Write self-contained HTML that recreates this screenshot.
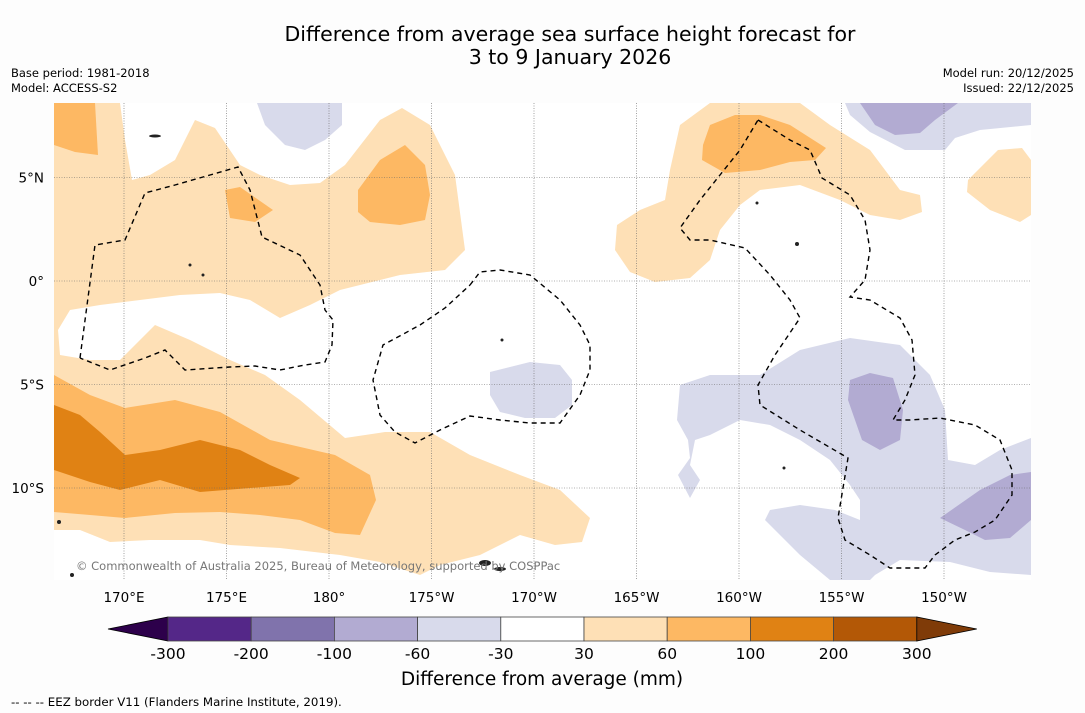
<!DOCTYPE html>
<html><head><meta charset="utf-8"><style>
body{margin:0;background:#fdfdfd;width:1085px;height:713px;overflow:hidden;font-family:"DejaVu Sans","Liberation Sans",sans-serif;}
svg{display:block}
</style></head><body>
<svg id="s" width="1085" height="713" xmlns="http://www.w3.org/2000/svg">
<rect width="1085" height="713" fill="#fdfdfd"/>
<text x="570" y="41" font-size="20.5" text-anchor="middle" fill="#000">Difference from average sea surface height forecast for</text>
<text x="570" y="64" font-size="20.5" text-anchor="middle" fill="#000">3 to 9 January 2026</text>
<text x="11" y="77" font-size="11.5">Base period: 1981-2018</text>
<text x="11" y="92" font-size="11.5">Model: ACCESS-S2</text>
<text x="1074" y="77" font-size="11.5" text-anchor="end">Model run: 20/12/2025</text>
<text x="1074" y="92" font-size="11.5" text-anchor="end">Issued: 22/12/2025</text>
<g id="map">
<clipPath id="c"><rect x="54" y="103" width="977" height="477"/></clipPath>
<g clip-path="url(#c)">
<rect x="54" y="103" width="977" height="477" fill="#ffffff"/>
<polygon fill="#fee0b6" points="54,103 120,103 125,140 132,180 150,175 175,160 195,120 215,128 240,165 260,175 290,185 320,183 345,165 380,120 402,108 430,125 455,175 465,250 445,270 400,275 340,290 310,305 280,318 250,300 220,293 180,295 140,300 100,305 70,310 58,330 60,355 90,360 120,360 155,325 190,340 230,360 265,375 300,400 345,438 385,432 430,432 470,455 520,475 560,490 590,518 582,542 555,545 520,535 480,555 440,565 420,575 380,562 340,555 280,548 230,545 200,540 150,540 110,542 80,530 54,530"/>
<polygon fill="#fdb863" points="54,375 90,395 125,408 175,400 220,412 270,440 335,455 370,475 376,500 360,535 335,533 300,520 260,515 220,512 175,513 125,518 90,515 54,512"/>
<polygon fill="#e08214" points="54,405 80,415 100,432 125,455 160,450 200,440 240,450 270,465 300,478 290,485 250,488 200,492 160,480 120,490 90,482 54,470"/>
<polygon fill="#fdb863" points="54,103 95,103 98,155 75,152 54,145"/>
<polygon fill="#fdb863" points="225,190 240,187 273,210 255,222 230,218"/>
<polygon fill="#fdb863" points="358,190 380,160 405,145 425,165 430,195 425,220 400,225 370,222 358,212"/>
<polygon fill="#fee0b6" points="710,103 800,103 830,125 870,150 900,190 920,195 922,212 900,220 870,215 840,200 800,185 760,190 740,205 720,230 710,260 690,278 655,282 630,272 615,250 617,225 640,210 665,200 670,170 680,125"/>
<polygon fill="#fdb863" points="710,125 735,115 760,115 790,125 826,148 815,160 790,162 760,170 725,173 702,160 703,145"/>
<polygon fill="#fee0b6" points="968,180 998,150 1022,148 1031,160 1031,215 1020,222 990,210 967,192"/>
<polygon fill="#d8daeb" points="845,103 1031,103 1031,125 980,130 955,138 945,150 905,150 870,132 850,115"/>
<polygon fill="#b2abd2" points="860,103 958,103 935,120 920,133 895,135 875,125"/>
<polygon fill="#d8daeb" points="257,103 342,103 342,125 325,140 305,150 285,145 265,125"/>
<polygon fill="#d8daeb" points="490,372 530,362 560,365 572,380 572,405 555,418 525,418 500,412 490,395"/>
<polygon fill="#d8daeb" points="680,385 710,375 760,375 800,350 850,338 900,345 930,375 945,410 948,460 975,465 1000,450 1031,438 1031,575 990,572 950,562 900,560 875,575 870,580 830,580 800,555 765,520 770,510 800,505 835,510 860,520 860,500 850,485 830,460 800,440 770,425 740,420 710,435 695,440 690,465 700,480 690,498 678,475 690,458 688,440 677,420"/>
<polygon fill="#b2abd2" points="850,380 870,373 893,378 903,410 900,440 880,450 862,440 848,400"/>
<polygon fill="#b2abd2" points="940,518 980,490 1010,475 1031,472 1031,520 1010,538 985,540 965,530"/>
<g id="grid" stroke="#666" stroke-width="0.6" stroke-dasharray="1,1.5"></g>
<g fill="none" stroke="#000" stroke-width="1.4" stroke-dasharray="5,4">
<polyline points="80,358 95,245 125,240 145,193 175,185 210,175 238,167 250,190 262,237 300,255 320,285 325,310 333,320 332,345 325,362 305,365 280,370 255,366 230,367 185,370 165,350 145,358 110,370 80,358"/>
<polyline points="470,285 480,272 500,270 530,275 560,300 580,325 590,345 590,370 580,395 560,423 530,423 500,420 470,416 440,430 415,443 395,432 380,415 373,380 383,345 420,325 445,308 470,285"/>
<polyline points="758,120 790,140 810,150 822,178 850,195 865,220 870,250 865,280 850,297 870,300 900,318 912,340 915,375 905,400 893,420 910,420 940,418 975,425 1000,440 1012,470 1012,495 995,520 975,532 955,540 935,555 925,568 890,568 870,555 845,540 838,518 848,458 800,430 760,405 758,385 775,355 800,318 790,300 770,275 745,248 710,240 690,240 680,228 700,200 720,175 740,150 758,120"/>
</g>
<g fill="#222">
<ellipse cx="485" cy="563" rx="6" ry="3"/><ellipse cx="500" cy="569" rx="6" ry="2"/><ellipse cx="155" cy="136" rx="6" ry="1.5"/><circle cx="72" cy="575" r="2"/><circle cx="59" cy="522" r="2"/><circle cx="797" cy="244" r="2"/><circle cx="502" cy="340" r="1.5"/><circle cx="757" cy="203" r="1.5"/><circle cx="784" cy="468" r="1.5"/><circle cx="190" cy="265" r="1.5"/><circle cx="203" cy="275" r="1.5"/>
</g>
</g>
<text x="76" y="570" font-size="11.5" fill="#777">© Commonwealth of Australia 2025, Bureau of Meteorology, supported by COSPPac</text>
<g id="ticks" font-size="13.5"></g>
</g>
<g id="cb"></g>
<text x="542" y="685" font-size="18.5" text-anchor="middle">Difference from average (mm)</text>
<text x="11" y="706" font-size="11.8">--  --  -- EEZ border V11 (Flanders Marine Institute, 2019).</text>
</svg>
<script>
const lonLabels=["170°E","175°E","180°","175°W","170°W","165°W","160°W","155°W","150°W"];
const lonValues=[170,175,180,185,190,195,200,205,210];
const latLabels=["5°N","0°","5°S","10°S"];
const latValues=[5,0,-5,-10];
const cbLevels=[-300,-200,-100,-60,-30,30,60,100,200,300];
const cbColors=["#542788","#8073ac","#b2abd2","#d8daeb","#ffffff","#fee0b6","#fdb863","#e08214","#b35806"];
const cbExt=["#2d004b","#7f3b08"];
const NS="http://www.w3.org/2000/svg";
const xLon=l=>124+(l-170)*20.5;
const yLat=a=>281-a*20.7;
function mk(t,a,p){const e=document.createElementNS(NS,t);for(const k in a)e.setAttribute(k,a[k]);p.appendChild(e);return e;}
const grid=document.getElementById('grid'),ticks=document.getElementById('ticks');
lonValues.forEach((v,i)=>{const x=xLon(v);
 const l=mk('line',{x1:x,x2:x,y1:103,y2:580},grid);
 
 
 const t=mk('text',{x:x,y:602,'text-anchor':'middle'},ticks);t.textContent=lonLabels[i];
 
 });
latValues.forEach((v,i)=>{const y=yLat(v);
 const l=mk('line',{x1:54,x2:1031,y1:y,y2:y},grid);
 
 
 const t=mk('text',{x:44,y:y+5,'text-anchor':'end'},ticks);t.textContent=latLabels[i];
 
 });
const cb=document.getElementById('cb');
const x0=168,w=83.2,y0=617,h=24;
const L=mk('polygon',{points:`${x0},${y0} ${x0},${y0+h} 108,${y0+h/2}`,fill:cbExt[0],stroke:'#000','stroke-width':0.8},cb);


cbColors.forEach((c,i)=>{const r=mk('rect',{x:x0+i*w,y:y0,width:w,height:h,fill:c,stroke:'#444','stroke-width':0.8},cb);
 
 });
const xe=x0+cbColors.length*w;
const R=mk('polygon',{points:`${xe},${y0} ${xe},${y0+h} ${xe+60},${y0+h/2}`,fill:cbExt[1],stroke:'#000','stroke-width':0.8},cb);


cbLevels.forEach((v,i)=>{const t=mk('text',{x:x0+i*w,y:659,'font-size':15.5,'text-anchor':'middle'},cb);t.textContent=v;
 
 });
</script>
</body></html>
